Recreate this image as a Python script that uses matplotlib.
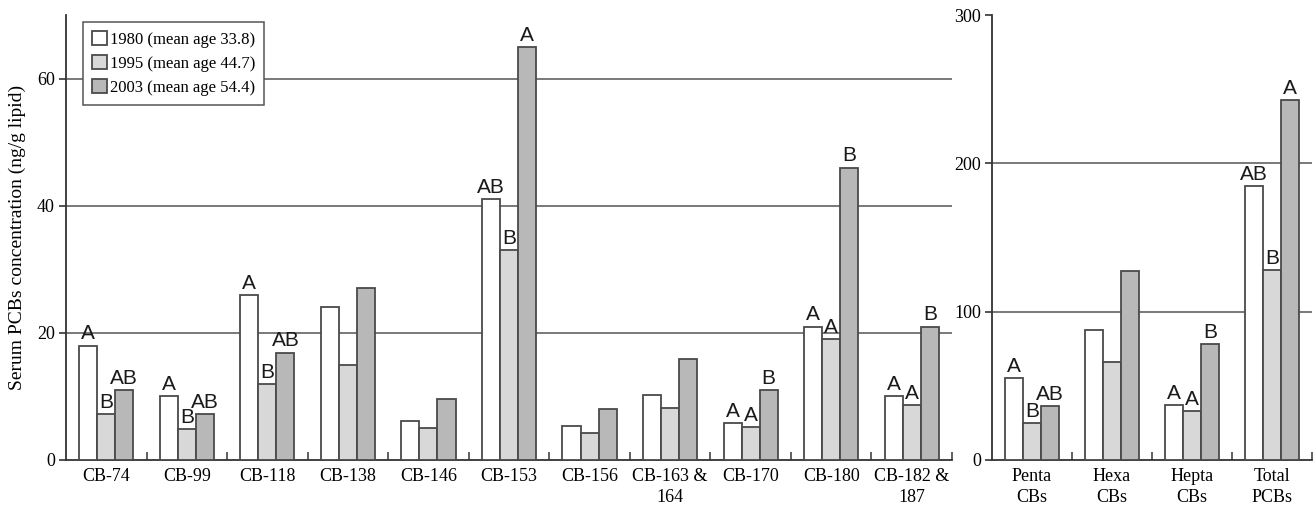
import matplotlib
matplotlib.use("Agg")
import matplotlib.pyplot as plt
from matplotlib.patches import Patch
import numpy as np

# ---------------- data ----------------
cong_labels = ["CB-74", "CB-99", "CB-118", "CB-138", "CB-146", "CB-153", "CB-156",
               "CB-163 &\n164", "CB-170", "CB-180", "CB-182 &\n187"]
cong_1980 = [18.0, 10.0, 26.0, 24.0, 6.1, 41.0, 5.4, 10.3, 5.8, 21.0, 10.0]
cong_1995 = [7.3, 4.9, 11.9, 14.9, 5.1, 33.0, 4.3, 8.2, 5.2, 19.0, 8.6]
cong_2003 = [11.0, 7.3, 16.9, 27.0, 9.6, 65.0, 8.0, 15.9, 11.0, 46.0, 21.0]
cong_sig_1980 = ["A", "A", "A", "", "", "AB", "", "", "A", "A", "A"]
cong_sig_1995 = ["B", "B", "B", "", "", "B", "", "", "A", "A", "A"]
cong_sig_2003 = ["AB", "AB", "AB", "", "", "A", "", "", "B", "B", "B"]

grp_labels = ["Penta\nCBs", "Hexa\nCBs", "Hepta\nCBs", "Total\nPCBs"]
grp_1980 = [55.0, 87.4, 37.0, 185.0]
grp_1995 = [25.0, 66.3, 33.0, 128.0]
grp_2003 = [36.2, 127.2, 78.2, 242.5]
grp_sig_1980 = ["A", "", "A", "AB"]
grp_sig_1995 = ["B", "", "A", "B"]
grp_sig_2003 = ["AB", "", "B", "A"]

series_names = ["1980 (mean age 33.8)", "1995 (mean age 44.7)", "2003 (mean age 54.4)"]
colors = ["#ffffff", "#d8d8d8", "#b8b8b8"]
edge = "#4a4a4a"

serif = ["Liberation Serif", "DejaVu Serif"]
sans = ["Liberation Sans", "DejaVu Sans"]

fig = plt.figure(figsize=(13.14, 5.05), dpi=100)
axL = fig.add_axes([66 / 1314, 45 / 505, 886 / 1314, 445 / 505])
axR = fig.add_axes([992 / 1314, 45 / 505, 320 / 1314, 445 / 505])

W = 0.224


def draw(ax, labels, vals, sigs, ymax, yticks, gridvals):
    n = len(labels)
    x = np.arange(n)
    for k in range(3):
        xs = x + (k - 1) * W
        ax.bar(xs, vals[k], width=W, color=colors[k], edgecolor=edge,
               linewidth=1.3, zorder=3)
        for xi, v, s in zip(xs, vals[k], sigs[k]):
            if s:
                ax.annotate(s, (xi, v), xytext=(0, 1.5), textcoords="offset points",
                            ha="center", va="bottom", fontsize=15, family=sans,
                            color="#1a1a1a", zorder=4)
    for g in gridvals:
        ax.axhline(g, color="#555555", linewidth=1.1, zorder=1)
    ax.set_xlim(-0.5, n - 0.5)
    ax.set_ylim(0, ymax)
    ax.set_yticks(yticks)
    ax.set_yticklabels([str(t) for t in yticks], family=serif, fontsize=13)
    ax.set_xticks(x)
    ax.set_xticklabels(labels, family=serif, fontsize=13, linespacing=1.25)
    ax.set_xticks(np.arange(n) + 0.5, minor=True)
    ax.tick_params(axis="x", which="major", length=0, pad=6)
    ax.tick_params(axis="x", which="minor", direction="in", length=6,
                   width=1.2, color="#444444")
    ax.tick_params(axis="y", which="major", direction="out", length=5,
                   width=1.2, color="#333333", pad=3)
    for sp in ["top", "right"]:
        ax.spines[sp].set_visible(False)
    for sp in ["left", "bottom"]:
        ax.spines[sp].set_linewidth(1.3)
        ax.spines[sp].set_color("#333333")


draw(axL, cong_labels, [cong_1980, cong_1995, cong_2003],
     [cong_sig_1980, cong_sig_1995, cong_sig_2003], 70, [0, 20, 40, 60],
     [20, 40, 60])
draw(axR, grp_labels, [grp_1980, grp_1995, grp_2003],
     [grp_sig_1980, grp_sig_1995, grp_sig_2003], 300, [0, 100, 200, 300],
     [100, 200])

axL.set_ylabel("Serum PCBs concentration (ng/g lipid)", family=serif,
               fontsize=14, labelpad=8)

handles = [Patch(facecolor=c, edgecolor=edge, linewidth=1.3) for c in colors]
leg = axL.legend(handles, series_names, loc="upper left",
                 bbox_to_anchor=(0.019, 0.985), borderaxespad=0,
                 prop={"family": serif, "size": 12}, fancybox=False,
                 handlelength=0.9, handleheight=0.9, handletextpad=0.15,
                 labelspacing=0.45, borderpad=0.55, framealpha=1)
leg.get_frame().set_edgecolor("#555555")
leg.get_frame().set_linewidth(1.1)
leg.set_zorder(5)

fig.savefig("out.png", dpi=100)
